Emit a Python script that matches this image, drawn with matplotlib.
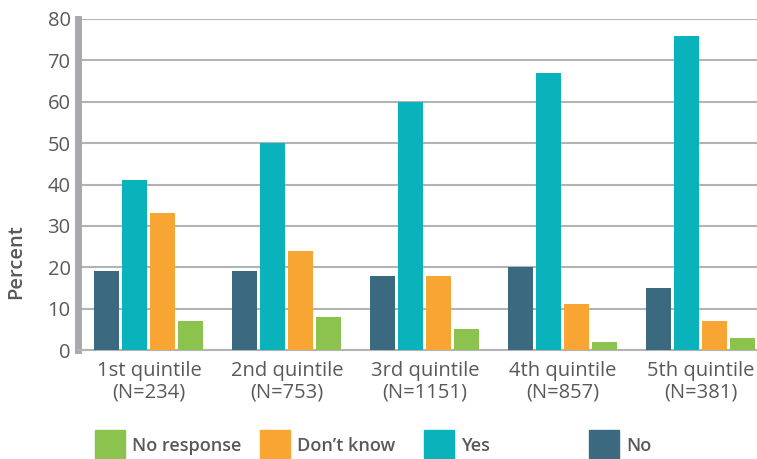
import numpy as np
import matplotlib.pyplot as plt
from matplotlib.patches import Rectangle

plt.rcParams['font.family'] = ['Open Sans', 'DejaVu Sans']

groups = ['1st quintile\n(N=234)', '2nd quintile\n(N=753)', '3rd quintile\n(N=1151)',
          '4th quintile\n(N=857)', '5th quintile\n(N=381)']
no = [19, 19, 18, 20, 15]
yes = [41, 50, 60, 67, 76]
dont_know = [33, 24, 18, 11, 7]
no_response = [7, 8, 5, 2, 3]

series = [('No', no, '#3b6a80'),
          ('Yes', yes, '#0ab3bc'),
          ("Don\u2019t know", dont_know, '#f9a533'),
          ('No response', no_response, '#8bc34e')]
legend_order = ['No response', "Don\u2019t know", 'Yes', 'No']

text_col = '#595959'
W, H = 757, 459
fig = plt.figure(figsize=(W / 100, H / 100), dpi=100)
ax = fig.add_axes([77.5 / W, 109 / H, (W - 77.5) / W, 331 / H])

x = np.arange(len(groups))
step = 28 / 138
width = 25 / 138
for i, (name, vals, col) in enumerate(series):
    ax.bar(x + (i - 1.5) * step, vals, width, color=col, zorder=3)

ax.set_ylim(0, 80)
ax.set_xlim(-0.518, 4.406)
ax.set_yticks(range(0, 81, 10))
ax.yaxis.grid(True, color='#b3b3b3', linewidth=1.5, zorder=0)
ax.set_xticks(x)
ax.set_xticklabels(groups, linespacing=1.1)
ax.tick_params(axis='both', length=0, labelsize=14.5, colors=text_col)
ax.tick_params(axis='x', pad=8)
ax.tick_params(axis='y', pad=5)
for s in ['top', 'right']:
    ax.spines[s].set_visible(False)
ax.spines['left'].set_color('#a7a9ac')
ax.spines['left'].set_linewidth(5)
ax.spines['bottom'].set_color('#b3b3b3')
ax.spines['bottom'].set_linewidth(1.5)

fig.text(16 / W, 1 - 262 / H, 'Percent', rotation=90, ha='center', va='center',
         fontsize=14.5, fontweight='semibold', color=text_col)

# legend drawn by hand, one entry per slot
colors = {name: col for name, vals, col in series}
leg_x = [95, 260, 424, 589]
for lx, name in zip(leg_x, legend_order):
    fig.add_artist(Rectangle((lx / W, 1 - 459 / H), 30 / W, 29 / H,
                             transform=fig.transFigure, color=colors[name]))
    fig.text((lx + 37) / W, 1 - 446 / H, name, ha='left', va='center',
             fontsize=13, fontweight='semibold', color=text_col)

fig.savefig('out.png', dpi=100)
